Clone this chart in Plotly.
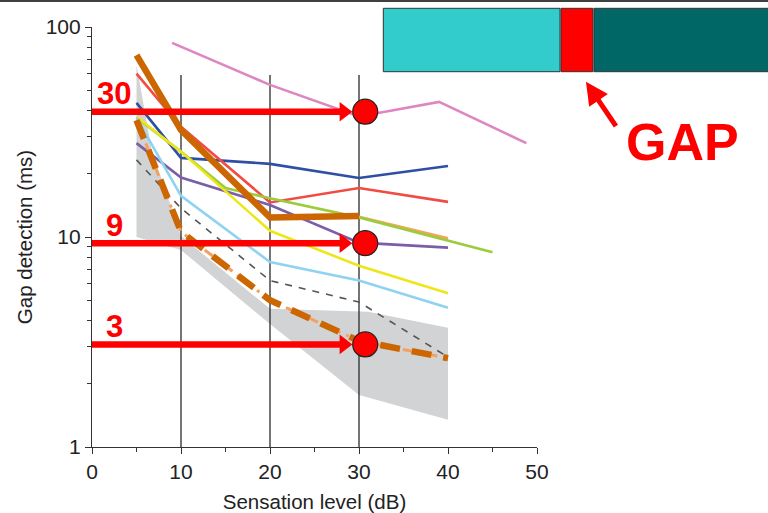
import plotly.graph_objects as go
import math

# ---------------- data ----------------
x_tick_values = [0, 10, 20, 30, 40, 50]
y_tick_values = [1, 10, 100]
y_tick_labels = ["1", "10", "100"]

pink_x = [9, 20, 30, 39, 48.8]
pink_y = [84, 53, 37.5, 44, 28]

blue_x = [5, 10, 20, 30, 40]
blue_y = [43.5, 23.8, 22.3, 19.1, 21.8]

red_x = [5, 10, 20, 30, 40]
red_y = [60, 33.5, 14.6, 17.1, 14.7]

green_x = [5, 10, 15, 20, 30, 45]
green_y = [37, 25.5, 17.1, 15.3, 12.4, 8.45]

yellow_x = [5, 10, 20, 30, 40]
yellow_y = [37.4, 25.5, 10.7, 7.3, 5.4]

purple_x = [5, 10, 20, 30, 40]
purple_y = [28, 19.2, 14.2, 9.4, 8.9]

lightblue_x = [5, 10, 20, 30, 40]
lightblue_y = [37, 15.7, 7.6, 6.2, 4.6]

sandy_x = [30, 40]
sandy_y = [12.5, 9.85]

greydash_x = [5, 10, 20, 30, 40]
greydash_y = [23.3, 13.7, 6.2, 4.9, 2.68]

brown_dash_x = [5, 10, 20, 30, 40]
brown_dash_y = [36, 10.6, 5.0, 3.2, 2.65]

brown_solid_x = [5, 10, 20, 30]
brown_solid_y = [73.5, 32.3, 12.4, 12.6]

band_upper_x = [5, 6.7, 10, 20, 31, 40]
band_upper_y = [66, 26, 10.1, 4.55, 4.4, 3.7]
band_lower_x = [40, 30, 20, 10, 5]
band_lower_y = [1.35, 1.77, 3.85, 8.67, 10]

grid_x = [10, 20, 30]
grid_bottom = 1
grid_top = 59

threshold_levels = [39.5, 9.35, 3.08]
threshold_labels = ["30", "9", "3"]
threshold_circle_x = 30.7
threshold_arrow_x = 28.3
threshold_label_x = 2.5

FONT = "Liberation Sans, Arial, sans-serif"

fig = go.Figure()

# grey band
fig.add_trace(go.Scatter(
    x=band_upper_x + band_lower_x, y=band_upper_y + band_lower_y,
    fill="toself", fillcolor="#d1d3d4", line=dict(width=0), mode="lines",
    hoverinfo="skip"))

# vertical reference lines
vx, vy = [], []
for gx in grid_x:
    vx += [gx, gx, None]
    vy += [grid_bottom, grid_top, None]
fig.add_trace(go.Scatter(x=vx, y=vy, mode="lines",
                         line=dict(color="#2a2a2a", width=1.3)))

def line(x, y, color, width, dash="solid"):
    fig.add_trace(go.Scatter(x=x, y=y, mode="lines",
                             line=dict(color=color, width=width, dash=dash)))

line(pink_x, pink_y, "#de86c1", 2.6)
line(blue_x, blue_y, "#2e4fa3", 2.6)
line(red_x, red_y, "#f04c44", 2.6)
line(sandy_x, sandy_y, "#f4a460", 2.6)
line(green_x, green_y, "#9ccc3c", 2.6)
line(purple_x, purple_y, "#7b5ea8", 2.6)
line(yellow_x, yellow_y, "#ede61a", 2.6)
line(lightblue_x, lightblue_y, "#8fd3f0", 2.6)
line(greydash_x, greydash_y, "#555555", 1.6, "7px,7px")
line(brown_dash_x, brown_dash_y, "#f4a060", 3, "10px,6px,3px,6px")
line(brown_dash_x, brown_dash_y, "#cc6600", 6.5, "20px,12px")
line(brown_solid_x, brown_solid_y, "#cc6600", 6.5)

# red threshold arrows
for lvl in threshold_levels:
    fig.add_trace(go.Scatter(x=[0, threshold_arrow_x], y=[lvl, lvl], mode="lines",
                             line=dict(color="#ff0000", width=6.5)))
fig.add_trace(go.Scatter(
    x=[threshold_arrow_x] * len(threshold_levels), y=threshold_levels,
    mode="markers", marker=dict(symbol="triangle-right", size=17, color="#ff0000",
                                line=dict(width=0))))
fig.add_trace(go.Scatter(
    x=[threshold_circle_x] * len(threshold_levels), y=threshold_levels,
    mode="markers", marker=dict(symbol="circle", size=25, color="#ff0000",
                                line=dict(color="#222222", width=1.2))))

annotations = []
for lvl, lab in zip(threshold_levels, threshold_labels):
    annotations.append(dict(
        x=threshold_label_x, y=math.log10(lvl), xref="x", yref="y",
        text="<b>" + lab + "</b>", showarrow=False, yshift=18,
        xanchor="center", yanchor="middle",
        font=dict(family=FONT, size=31, color="#ff0000")))

# GAP label and arrow
annotations.append(dict(
    x=1.327, y=0.727, xref="paper", yref="paper", text="<b>GAP</b>",
    showarrow=False, xanchor="center", yanchor="middle",
    font=dict(family=FONT, size=52, color="#ff0000")))
annotations.append(dict(
    x=1.110, y=0.8698, xref="paper", yref="paper", text="",
    showarrow=True, ax=31, ay=46, arrowhead=2, arrowsize=0.9,
    arrowwidth=5, arrowcolor="#ff0000"))

shapes = [
    dict(type="rect", xref="paper", yref="paper", x0=0.6546, x1=1.0517,
         y0=0.8936, y1=1.0445, fillcolor="#33cccc", line=dict(color="#333333", width=1)),
    dict(type="rect", xref="paper", yref="paper", x0=1.0539, x1=1.1258,
         y0=0.8936, y1=1.0445, fillcolor="#ff0000", line=dict(color="#333333", width=1)),
    dict(type="rect", xref="paper", yref="paper", x0=1.1281, x1=1.53,
         y0=0.8936, y1=1.0445, fillcolor="#006666", line=dict(color="#333333", width=1)),
    dict(type="line", xref="paper", yref="paper", x0=-0.21, x1=1.53,
         y0=1.0619, y1=1.0619, line=dict(color="#000000", width=1.5)),
]

fig.update_layout(
    width=768, height=513,
    margin=dict(l=92, r=231, t=27, b=66, autoexpand=False),
    paper_bgcolor="white", plot_bgcolor="white",
    showlegend=False,
    font=dict(family=FONT, color="#222222"),
    annotations=annotations, shapes=shapes,
    xaxis=dict(range=[0, 50], tickmode="array", tickvals=x_tick_values,
               automargin=False,
               ticks="outside", ticklen=6, tickwidth=1.2, tickcolor="#333333",
               showline=True, linecolor="#333333", linewidth=1.2,
               showgrid=False, zeroline=False,
               tickfont=dict(size=21, family=FONT, color="#222222"),
               minor=dict(tickmode="array", tickvals=[5, 15, 25, 35, 45],
                          ticks="outside", ticklen=4, tickcolor="#333333", showgrid=False),
               title=dict(text="Sensation level (dB)", standoff=13,
                          font=dict(size=20.5, family=FONT, color="#222222"))),
    yaxis=dict(type="log", range=[0, 2], tickmode="array", tickvals=y_tick_values,
               ticktext=y_tick_labels, automargin=False,
               ticks="outside", ticklen=6, tickwidth=1.2, tickcolor="#333333",
               showline=True, linecolor="#333333", linewidth=1.2,
               showgrid=False, zeroline=False,
               tickfont=dict(size=21, family=FONT, color="#222222"),
               minor=dict(tickmode="array",
                          tickvals=[2, 3, 4, 5, 6, 7, 8, 9, 20, 30, 40, 50, 60, 70, 80, 90],
                          ticks="outside", ticklen=4, tickcolor="#333333", showgrid=False),
               title=dict(text="Gap detection (ms)", standoff=7,
                          font=dict(size=20.5, family=FONT, color="#222222"))),
)

fig.write_html("out.html", config={"displayModeBar": False},
               post_script="document.body.style.margin='0px';document.body.style.padding='0px';")
